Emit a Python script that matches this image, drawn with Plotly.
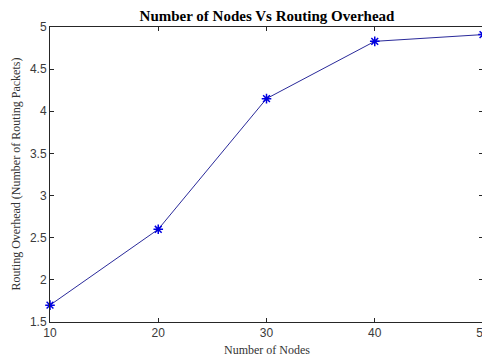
import plotly.graph_objects as go

nodes = [10, 20, 30, 40, 50]
overhead = [1.7, 2.6, 4.15, 4.83, 4.91]
x_ticks = [10, 20, 30, 40, 50]
y_ticks = [1.5, 2, 2.5, 3, 3.5, 4, 4.5, 5]
y_tick_labels = ["1.5", "2", "2.5", "3", "3.5", "4", "4.5", "5"]

# page body has an 8px default margin; size the figure to fit the window
W, H = 482, 348
L, R, T, B = 42, 7, 19, 34
pw, ph = W - L - R, H - T - B

fig = go.Figure()
fig.add_trace(go.Scatter(
    x=nodes, y=overhead, mode="lines+markers",
    line=dict(color="#2a2a9a", width=1),
    marker=dict(symbol="asterisk-open", size=8, color="#0000e0",
                line=dict(color="#0000e0", width=1.5)),
    cliponaxis=False, showlegend=False))

axis_common = dict(showline=True, linecolor="#262626", linewidth=1, mirror="ticks",
                   ticks="inside", ticklen=4, tickcolor="#262626", showgrid=False,
                   zeroline=False, automargin=False,
                   tickfont=dict(family="Liberation Sans, Arial", size=12, color="#3a3a3a"))

serif = "Liberation Serif, Times New Roman"

fig.update_layout(
    width=W, height=H,
    margin=dict(l=L, r=R, t=T, b=B),
    paper_bgcolor="white", plot_bgcolor="white",
    title=dict(text="<b>Number of Nodes Vs Routing Overhead</b>",
               font=dict(family=serif, size=15, color="black"),
               x=259 / W, xanchor="center", y=1 - 8 / H, yanchor="middle"),
    xaxis=dict(range=[10, 50], tickvals=x_ticks, ticktext=[str(v) for v in x_ticks],
               **axis_common),
    yaxis=dict(range=[1.5, 5], tickvals=y_ticks, ticktext=y_tick_labels,
               **axis_common),
    annotations=[
        dict(text="Number of Nodes", xref="paper", yref="paper", x=(259 - L) / pw,
             y=-(342 - (T + ph)) / ph, xanchor="center", yanchor="middle", showarrow=False,
             font=dict(family=serif, size=12, color="#333")),
        dict(text="Routing Overhead (Number of Routing Packets)", xref="paper", yref="paper",
             x=-(L - 7) / pw, y=0.5, xanchor="center", yanchor="middle", textangle=-90,
             showarrow=False, font=dict(family=serif, size=12, color="#333")),
    ],
)

fig.write_html("out.html")
